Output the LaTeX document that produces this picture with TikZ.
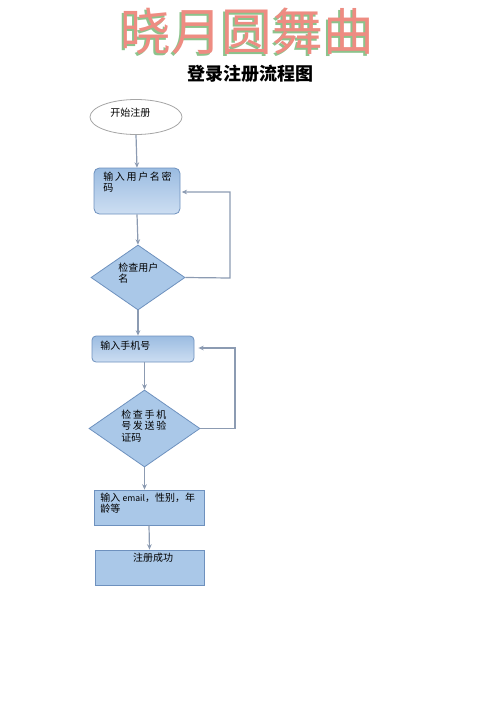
\documentclass[tikz,border=0pt]{standalone}
\usepackage{fontspec}
\setmainfont{Noto Sans CJK SC}
\newfontfamily\cjk{Noto Sans CJK SC}
\usetikzlibrary{shapes.geometric,arrows.meta}
\definecolor{edgeblue}{RGB}{110,145,190}
\definecolor{linegray}{RGB}{140,155,178}
\definecolor{fillblue}{RGB}{170,200,232}
\definecolor{filltop}{RGB}{155,188,225}
\definecolor{fillbot}{RGB}{205,222,242}
\definecolor{titlepink}{RGB}{238,140,130}
\definecolor{titlegreen}{RGB}{140,195,140}
\tikzset{
  gradbox/.style={draw=edgeblue, line width=0.6pt, rounded corners=4pt, top color=filltop, bottom color=fillbot, inner sep=0pt},
  flatbox/.style={draw=edgeblue, line width=0.6pt, fill=fillblue, inner sep=0pt},
  dia/.style={diamond, draw=edgeblue, line width=0.6pt, fill=fillblue, inner sep=0pt},
  flow/.style={draw=linegray, line width=0.9pt, -{Stealth[length=4pt,width=3.5pt]}},
  txt/.style={anchor=north west, align=left, inner sep=0pt, font=\fontsize{7.5pt}{8.4pt}\selectfont},
}
\begin{document}
\begin{tikzpicture}[x=0.75pt,y=-0.75pt]
\useasboundingbox (0,0) rectangle (500,707);
% title
\node[text=titlegreen, font=\fontsize{38pt}{40pt}\selectfont] (titleshadow) at (245,33) {晓月圆舞曲};
\node[text=titlepink, font=\fontsize{38pt}{40pt}\selectfont] (title) at (247,31) {晓月圆舞曲};
\node[font=\bfseries\fontsize{13.5pt}{15pt}\selectfont] (subtitle) at (250,74) {登录注册流程图};
% shapes
\node[ellipse, draw=gray!70, line width=0.6pt, fill=white, minimum width=69pt, minimum height=26.25pt, inner sep=0pt] (start) at (136,117) {};
\node[txt] (starttxt) at (110,108) {开始注册};
\node[gradbox, minimum width=64.5pt, minimum height=34.5pt] (b1) at (137,191) {};
\node[txt] (b1txt) at (103,172) {输\,入\,用\,户\,名\,密\\码};
\node[dia, minimum width=70.5pt, minimum height=48.75pt] (d1) at (138,277.5) {};
\node[txt] (d1txt) at (118,263) {检查用户\\名};
\node[gradbox, rounded corners=3pt, minimum width=76.5pt, minimum height=19.5pt] (b2) at (143,349) {};
\node[txt] (b2txt) at (100,341) {输入手机号};
\node[dia, minimum width=83.25pt, minimum height=57.75pt] (d2) at (144.5,428.5) {};
\node[txt] (d2txt) at (121,410) {检\,查\,手\,机\\号\,发\,送\,验\\证码};
\node[flatbox, minimum width=82.5pt, minimum height=26.25pt] (b3) at (149,507.5) {};
\node[txt] (b3txt) at (100,493) {输入 {\fontsize{6.5pt}{8pt}\selectfont email}，性别，年\\龄等};
\node[flatbox, minimum width=81.75pt, minimum height=26.25pt] (b4) at (149.5,567.5) {};
\node[txt, anchor=north] (b4txt) at (153,553) {注册成功};
% connectors
\draw[flow] (start.south) -- (b1.north);
\draw[flow] (b1.south) -- (d1.north);
\draw[flow] (d1.south) -- (d1.south |- b2.north);
\draw[flow] (d2.north |- b2.south) -- (d2.north);
\draw[flow] (d2.south) -- (d2.south |- b3.north);
\draw[flow] (b3.south) -- (b4.north);
\coordinate (c1) at (230,278);
\coordinate (c2) at (230,192);
\draw[flow] (d1.east) -- (c1) -- (c2) -- ([xshift=1pt]b1.east |- c2);
\coordinate (c3) at (235,428.5);
\coordinate (c4) at (235,348);
\draw[flow] (d2.east) -- (c3) -- (c4) -- ([xshift=3pt]b2.east |- c4);
\end{tikzpicture}
\end{document}
